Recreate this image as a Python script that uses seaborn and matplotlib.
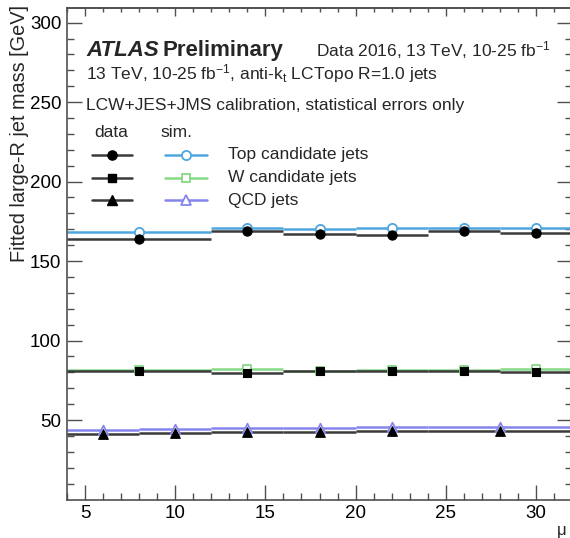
import numpy as np
import pandas as pd
import matplotlib
matplotlib.use("Agg")
import matplotlib.pyplot as plt
from matplotlib.lines import Line2D
import seaborn as sns

# ---------------- data ----------------
tw_edges = [4, 12, 16, 20, 24, 28, 32]
qcd_edges = [4, 8, 12, 16, 20, 24, 32]

top_data = [164.0, 169.2, 167.1, 166.1, 169.2, 167.6]
top_sim = [168.0, 170.7, 170.1, 171.1, 171.1, 170.7]
w_data = [81.0, 79.6, 80.6, 81.0, 80.6, 80.0]
w_sim = [81.2, 82.1, 81.0, 81.4, 81.4, 82.1]
qcd_data = [41.4, 41.8, 42.2, 42.2, 42.9, 43.3]
qcd_sim = [43.9, 44.4, 44.8, 44.8, 45.6, 45.8]

legend_labels = ["Top candidate jets", "W candidate jets", "QCD jets"]
x_ticks = [5, 10, 15, 20, 25, 30]
y_ticks = [50, 100, 150, 200, 250, 300]

# ---------------- style ----------------
sns.set_style("ticks")
plt.rcParams["font.family"] = ["Liberation Sans", "DejaVu Sans"]
plt.rcParams["mathtext.fontset"] = "custom"
plt.rcParams["mathtext.rm"] = "Liberation Sans"
plt.rcParams["mathtext.it"] = "Liberation Sans:italic"

W, H = 570, 538
fig = plt.figure(figsize=(W / 100, H / 100), dpi=100)
fig.patch.set_facecolor("white")


def fx(x):
    return x / W


def fy(y):
    return (H - y) / H


ax = fig.add_axes([fx(67), fy(499.5), (572 - 67) / W, (499.5 - 8.3) / H])
ax.set_xlim(4, 32)
ax.set_ylim(0, 309)

c_top = "#4ea6df"
c_w = "#86d986"
c_qcd = "#8585ee"
c_data = "#3a3a3a"


def centers(edges):
    e = np.asarray(edges, dtype=float)
    return (e[:-1] + e[1:]) / 2


series = [
    (tw_edges, top_sim, c_top, "o", False, 44),
    (tw_edges, w_sim, c_w, "s", False, 40),
    (qcd_edges, qcd_sim, c_qcd, "^", False, 48),
    (tw_edges, top_data, c_data, "o", True, 44),
    (tw_edges, w_data, c_data, "s", True, 40),
    (qcd_edges, qcd_data, c_data, "^", True, 48),
]

for edges, vals, col, mk, filled, s in series:
    e = np.asarray(edges, dtype=float)
    ax.hlines(vals, e[:-1], e[1:], colors=col, lw=1.8, zorder=2 if not filled else 3)
    df = pd.DataFrame({"x": centers(edges), "y": vals})
    if filled:
        sns.scatterplot(data=df, x="x", y="y", marker=mk, s=s, color="black",
                        edgecolor="black", linewidth=0.8, ax=ax, zorder=5)
    else:
        sns.scatterplot(data=df, x="x", y="y", marker=mk, s=s, facecolor="white",
                        edgecolor=col, linewidth=1.3, ax=ax, zorder=4)

ax.set_xlabel("")
ax.set_ylabel("")

# ---------------- axes & ticks ----------------
spine_c = "#505050"
for sp in ax.spines.values():
    sp.set_color(spine_c)
    sp.set_linewidth(1.2)
    sp.set_visible(True)

ax.set_xticks(x_ticks)
ax.set_xticks(np.arange(4, 33, 1), minor=True)
ax.set_yticks(y_ticks)
ax.set_yticks(np.arange(10, 310, 10), minor=True)
ax.tick_params(axis="both", which="major", direction="in", length=10.5, width=1.0,
               color=spine_c, labelsize=13.5, labelcolor="black")
ax.tick_params(axis="both", which="minor", direction="in", length=5.0, width=1.0,
               color=spine_c)
ax.tick_params(axis="x", which="both", bottom=True, top=False, pad=4)
ax.tick_params(axis="y", which="both", left=True, right=True, pad=4)

sec = ax.secondary_xaxis("top")
sec.set_xticks(x_ticks)
sec.set_xticks(np.arange(4, 33, 1), minor=True)
sec.tick_params(axis="x", which="major", direction="in", length=5.5, width=1.0,
                color=spine_c, labeltop=False)
sec.tick_params(axis="x", which="minor", direction="in", length=3.0, width=1.0,
                color=spine_c)
sec.spines["top"].set_color(spine_c)
sec.spines["top"].set_linewidth(1.2)

# axis titles
fig.text(fx(20), fy(5), "Fitted large-R jet mass [GeV]", rotation=90,
         ha="center", va="top", fontsize=14.3)
fig.text(fx(562), fy(530), "\u03bc", ha="center", va="center", fontsize=12)

# ---------------- annotations ----------------
fs = 12.5
fig.text(fx(86), fy(56), "ATLAS", fontsize=16, fontweight="bold",
         fontstyle="italic", ha="left", va="baseline")
fig.text(fx(163), fy(56), "Preliminary", fontsize=16, fontweight="bold",
         ha="left", va="baseline")
fig.text(fx(316), fy(56), r"Data 2016, 13 TeV, 10-25 fb$^{\mathregular{-1}}$",
         fontsize=fs, ha="left", va="baseline")
fig.text(fx(86), fy(79),
         r"13 TeV, 10-25 fb$^{\mathregular{-1}}$, anti-k$_{\mathregular{t}}$ LCTopo R=1.0 jets",
         fontsize=fs, ha="left", va="baseline")
fig.text(fx(86), fy(110), "LCW+JES+JMS calibration, statistical errors only",
         fontsize=fs, ha="left", va="baseline")

# ---------------- legend ----------------
fig.text(fx(111), fy(137), "data", fontsize=fs, ha="center", va="baseline")
fig.text(fx(176), fy(137), "sim.", fontsize=fs, ha="center", va="baseline")

rows_y = [155, 177.5, 200]
markers = ["o", "s", "^"]
msizes = [6.6, 6.2, 6.8]
sim_cols = [c_top, c_w, c_qcd]
for yy, mk, ms, sc, lab in zip(rows_y, markers, msizes, sim_cols, legend_labels):
    fig.add_artist(Line2D([fx(92), fx(132)], [fy(yy), fy(yy)], color=c_data, lw=1.8,
                          transform=fig.transFigure))
    fig.add_artist(Line2D([fx(112)], [fy(yy)], marker=mk, ms=ms, color="black",
                          mec="black", transform=fig.transFigure))
    fig.add_artist(Line2D([fx(165), fx(207)], [fy(yy), fy(yy)], color=sc, lw=1.8,
                          transform=fig.transFigure))
    fig.add_artist(Line2D([fx(186)], [fy(yy)], marker=mk, ms=ms, color=sc, mec=sc,
                          mfc="white", mew=1.3, transform=fig.transFigure))
    fig.text(fx(228), fy(yy), lab, fontsize=fs, ha="left", va="center")

fig.savefig("out.png", dpi=100, facecolor="white")
